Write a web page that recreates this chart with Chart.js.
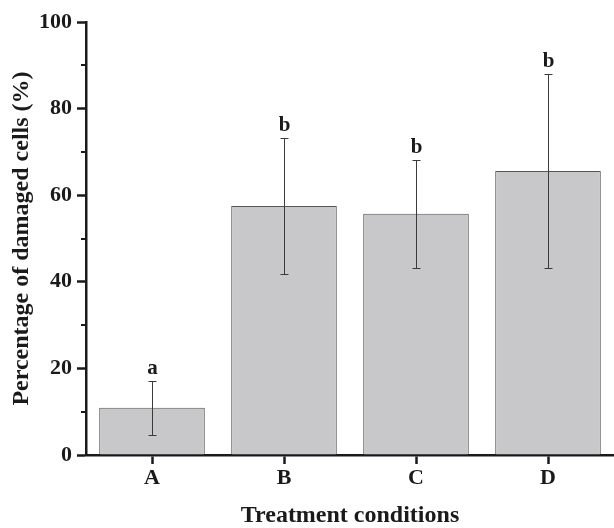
<!DOCTYPE html>
<html>
<head>
<meta charset="utf-8">
<script src="https://cdn.jsdelivr.net/npm/chart.js@4"></script>
<style>
  html, body { margin: 0; padding: 0; background: #fff; }
  #wrap { width: 614px; height: 528px; }
</style>
</head>
<body>
<div id="wrap"><canvas id="chart"></canvas></div>
<script>
// data
const categories = ['A', 'B', 'C', 'D'];
const means = [10.9, 57.5, 55.7, 65.6];
const errLow = [4.6, 41.9, 43.1, 43.2];
const errHigh = [17.2, 73.1, 68.2, 87.9];
const letters = ['a', 'b', 'b', 'b'];
const minorTicks = [10, 30, 50, 70, 90];

const serif = '"Liberation Serif", "Times New Roman", serif';

// error bars, significance letters, minor ticks
const extras = {
    id: 'extras',
    afterDatasetsDraw(chart) {
        const ctx = chart.ctx;
        const x = chart.scales.x, y = chart.scales.y;
        ctx.save();
        ctx.strokeStyle = '#3a3a3a';
        ctx.lineWidth = 1;
        means.forEach((m, i) => {
            const px = Math.round(x.getPixelForValue(i)) + 0.5;
            const yt = Math.round(y.getPixelForValue(errHigh[i])) + 0.5;
            const yb = Math.round(y.getPixelForValue(errLow[i])) + 0.5;
            ctx.beginPath();
            ctx.moveTo(px, yt); ctx.lineTo(px, yb);
            ctx.moveTo(px - 4, yt); ctx.lineTo(px + 4, yt);
            ctx.moveTo(px - 4, yb); ctx.lineTo(px + 4, yb);
            ctx.stroke();
            ctx.fillStyle = '#1a1a1a';
            ctx.font = 'bold 21px ' + serif;
            ctx.textAlign = 'center';
            ctx.textBaseline = 'alphabetic';
            ctx.fillText(letters[i], px, yt - 8);
        });
        ctx.strokeStyle = '#1a1a1a';
        ctx.lineWidth = 2;
        const left = chart.chartArea.left;
        minorTicks.forEach(v => {
            const py = Math.round(y.getPixelForValue(v));
            ctx.beginPath();
            ctx.moveTo(left - 5, py); ctx.lineTo(left, py);
            ctx.stroke();
        });
        ctx.restore();
    }
};

new Chart(document.getElementById('chart'), {
    type: 'bar',
    data: {
        labels: categories,
        datasets: [{
            data: means,
            backgroundColor: '#c8c8ca',
            borderColor: '#555',
            borderWidth: 1,
            categoryPercentage: 0.8,
            barPercentage: 1
        }]
    },
    options: {
        responsive: true,
        maintainAspectRatio: false,
        animation: false,
        layout: { padding: { top: 22, right: 0, left: 0, bottom: 0 } },
        plugins: {
            legend: { display: false },
            tooltip: { enabled: false }
        },
        scales: {
            x: {
                afterFit: s => { s.height = 73; },
                grid: {
                    drawOnChartArea: false,
                    drawTicks: true,
                    tickLength: 9,
                    tickWidth: 2.5,
                    tickColor: '#1a1a1a',
                    offset: false
                },
                border: { color: '#1a1a1a', width: 2.5 },
                ticks: {
                    color: '#1a1a1a',
                    padding: 1,
                    font: { family: serif, size: 22, weight: 'bold' }
                },
                title: {
                    display: true,
                    text: 'Treatment conditions',
                    color: '#1a1a1a',
                    padding: { top: 0, bottom: 0 },
                    font: { family: serif, size: 24, weight: 'bold', lineHeight: 1.0 }
                }
            },
            y: {
                min: 0,
                max: 100,
                afterFit: s => { s.width = 86; },
                grid: {
                    drawOnChartArea: false,
                    drawTicks: true,
                    tickLength: 9,
                    tickWidth: 2.5,
                    tickColor: '#1a1a1a'
                },
                border: { color: '#1a1a1a', width: 2.5 },
                ticks: {
                    stepSize: 20,
                    color: '#1a1a1a',
                    padding: 5,
                    font: { family: serif, size: 22, weight: 'bold' }
                },
                title: {
                    display: true,
                    text: 'Percentage of damaged cells (%)',
                    color: '#1a1a1a',
                    padding: { top: 10, bottom: 0 },
                    font: { family: serif, size: 24, weight: 'bold', lineHeight: 1.0 }
                }
            }
        }
    },
    plugins: [extras]
});
</script>
</body>
</html>
